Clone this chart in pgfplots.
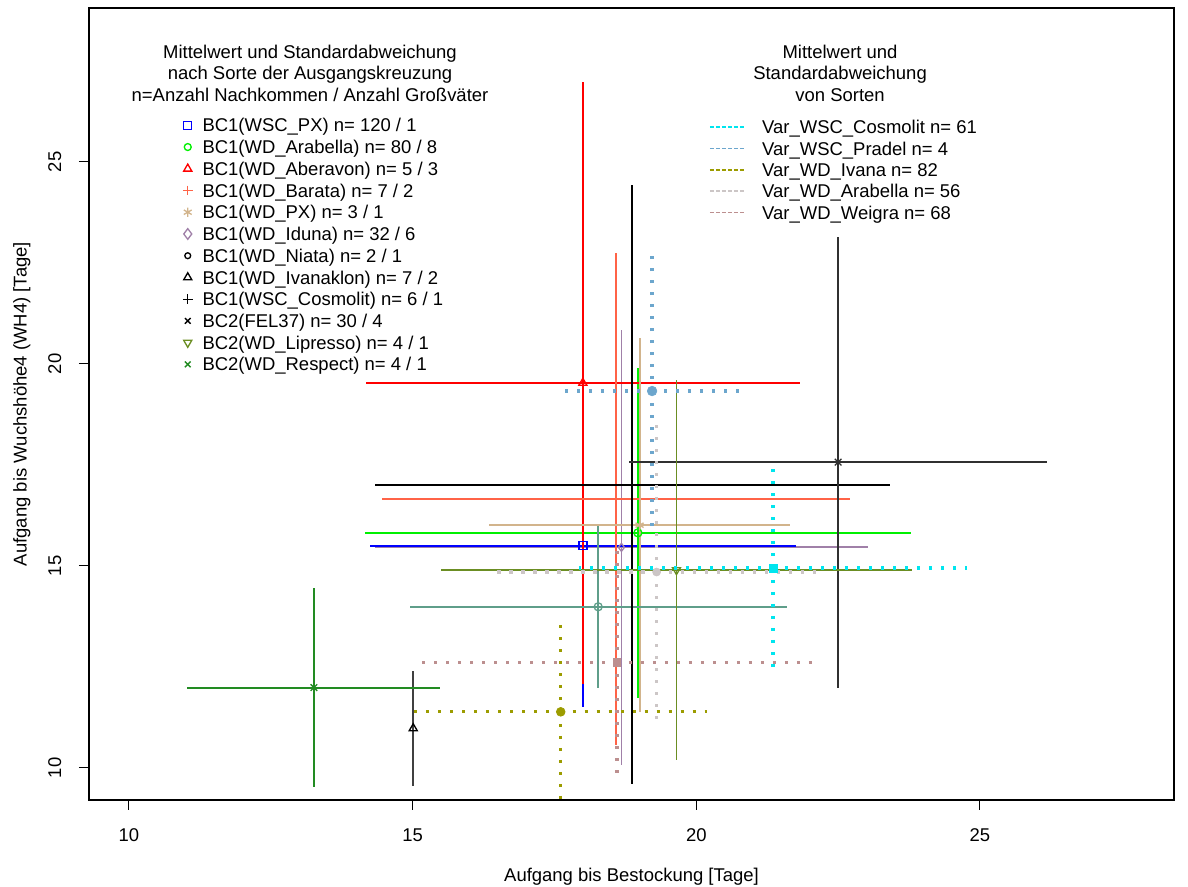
\documentclass[border=0pt]{standalone}
\usepackage{fontspec}
\setmainfont{Liberation Sans}
\usepackage{pgfplots}
\pgfplotsset{compat=1.18}
\newcommand{\fs}{\fontsize{13.85}{16.1}\selectfont}
\definecolor{cPX}{HTML}{0000FF}
\definecolor{cArab}{HTML}{00F000}
\definecolor{cAber}{HTML}{FF0000}
\definecolor{cBara}{HTML}{FF6347}
\definecolor{cWPX}{HTML}{D2B48C}
\definecolor{cIdu}{HTML}{A080A8}
\definecolor{cNia}{HTML}{5F9E8A}
\definecolor{cIvk}{HTML}{404040}
\definecolor{cCos}{HTML}{000000}
\definecolor{cFEL}{HTML}{303030}
\definecolor{cLip}{HTML}{6B8E23}
\definecolor{cRes}{HTML}{228B22}
\definecolor{vCos}{HTML}{00E5EE}
\definecolor{vPra}{HTML}{6CA6CD}
\definecolor{vIva}{HTML}{9C9C00}
\definecolor{vAra}{HTML}{CCC6C6}
\definecolor{vWei}{HTML}{BC8F8F}
\pgfplotsset{
  grp/.style 2 args={only marks, mark=#2, color=#1, line width=1pt, mark size=3pt,
    mark options={solid, draw=#1},
    /pgfplots/error bars/x dir=both, /pgfplots/error bars/x explicit,
    /pgfplots/error bars/y dir=both, /pgfplots/error bars/y explicit,
    /pgfplots/error bars/error mark=none,
    /pgfplots/error bars/error bar style={line width=1.4pt, draw=#1, solid}},
  var/.style 2 args={only marks, mark=#2, color=#1, mark size=3pt, line width=0.5pt,
    mark options={solid, draw=#1, fill=#1},
    /pgfplots/error bars/x dir=both, /pgfplots/error bars/x explicit,
    /pgfplots/error bars/y dir=both, /pgfplots/error bars/y explicit,
    /pgfplots/error bars/error mark=none,
    /pgfplots/error bars/error bar style={line width=2.4pt, draw=#1, line cap=butt, dash pattern=on 2.4pt off 6.6pt}},
  lg/.style 2 args={only marks, mark=#2, color=#1, line width=1pt, mark options={solid, draw=#1}},
  lv/.style={draw=#1, color=#1, line width=1.2pt, dash pattern=on 3pt off 1.5pt},
  base/.style={
    at={(0,0)}, anchor=south west,
    scale only axis, width=813.75pt, height=594pt,
    xmin=9.295, xmax=28.42, ymin=9.208, ymax=28.81,
    clip=true,
  }
}
\begin{document}
\begin{tikzpicture}
\useasboundingbox (-66.75pt,-65.25pt) rectangle (824.25pt,600pt);
\begin{axis}[base,
  xtick={10,15,20,25}, ytick={10,15,20,25},
  tick pos=left,
  tick align=outside, major tick length=7.5pt,
  tick style={black, line width=0.75pt},
  axis line style={line width=1pt},
  /pgf/number format/assume math mode=true,
  ticklabel style={font=\fs},
  xticklabel style={anchor=north, inner sep=0pt, yshift=-14pt},
  yticklabel style={xshift=-13pt, rotate=90, anchor=south, inner sep=0pt},
  xlabel={Aufgang bis Bestockung [Tage]},
  ylabel={Aufgang bis Wuchshöhe4 (WH4) [Tage]},
  every axis x label/.style={at={([yshift=-61.2pt]axis description cs:0.5,0)}, anchor=base, font=\fs},
  every axis y label/.style={at={([xshift=-46.8pt]axis description cs:0,0.5)}, rotate=90, anchor=base, font=\fs},
  legend image code/.code={\draw[mark repeat=2,mark phase=2,#1] plot coordinates {(0pt,0pt) (6pt,0pt) (12pt,0pt)};},
  legend style={at={(axis description cs:0.0866,0.8629)}, anchor=north west, draw=none, fill=none,
    inner sep=0pt, outer sep=0pt, row sep=3.2pt, column sep=7.5pt,
    nodes={inner sep=0pt, text height=11.5pt, text depth=1.6pt, font=\fs}},
  legend cell align=left,
]
% groups: x y +- (sd x, sd y)
\addplot[forget plot, grp={cIdu}{diamond}] coordinates {(18.68,15.46) +- (4.35,5.38)};
\addplot[forget plot, grp={cPX}{square}] coordinates {(18.00,15.50) +- (3.76,3.99)};
\addplot[forget plot, grp={cArab}{o}] coordinates {(18.97,15.82) +- (4.81,4.08)};
\addplot[forget plot, grp={cAber}{triangle}, mark size=3.5pt] coordinates {(18.00,19.53) +- (3.82,7.45)};
\addplot[forget plot, grp={cBara}{+}] coordinates {(18.58,16.66) +- (4.12,6.09)};
\addplot[forget plot, grp={cWPX}{asterisk}, mark size=3.5pt] coordinates {(19.00,16.01) +- (2.65,4.62)};
\addplot[forget plot, grp={cNia}{o}] coordinates {(18.27,13.99) +- (3.32,2.01)};
\addplot[forget plot, grp={cIvk}{triangle}, mark size=3.5pt, mark options={draw=black}] coordinates {(15.01,10.98) +- (0,1.42)};
\addplot[forget plot, grp={cCos}{+}] coordinates {(18.87,17.01) +- (4.54,7.41)};
\addplot[forget plot, grp={cFEL}{x}, mark size=3.5pt] coordinates {(22.50,17.57) +- (3.69,5.58)};
\addplot[forget plot, grp={cLip}{triangle}, mark size=3.5pt, mark options={rotate=180}] coordinates {(19.65,14.90) +- (4.15,4.70)};
\addplot[forget plot, grp={cRes}{x}, mark size=3.5pt] coordinates {(13.26,11.99) +- (2.23,2.47)};
% legend images
\addlegendimage{lg={cPX}{square}, mark size=3pt}
\addlegendentry{BC1(WSC\_PX) n= 120 / 1}
\addlegendimage{lg={cArab}{o}, mark size=2.6pt}
\addlegendentry{BC1(WD\_Arabella) n= 80 / 8}
\addlegendimage{lg={cAber}{triangle}, mark size=3.5pt}
\addlegendentry{BC1(WD\_Aberavon) n= 5 / 3}
\addlegendimage{lg={cBara}{+}, mark size=3.6pt}
\addlegendentry{BC1(WD\_Barata) n= 7 / 2}
\addlegendimage{lg={cWPX}{asterisk}, mark size=3.4pt}
\addlegendentry{BC1(WD\_PX) n= 3 / 1}
\addlegendimage{lg={cIdu}{diamond}, mark size=4pt}
\addlegendentry{BC1(WD\_Iduna) n= 32 / 6}
\addlegendimage{lg={black}{o}, mark size=2.2pt}
\addlegendentry{BC1(WD\_Niata) n= 2 / 1}
\addlegendimage{lg={black}{triangle}, mark size=3.5pt}
\addlegendentry{BC1(WD\_Ivanaklon) n= 7 / 2}
\addlegendimage{lg={black}{+}, mark size=3.6pt}
\addlegendentry{BC1(WSC\_Cosmolit) n= 6 / 1}
\addlegendimage{lg={black}{x}, mark size=3pt}
\addlegendentry{BC2(FEL37) n= 30 / 4}
\addlegendimage{lg={cLip}{triangle}, mark size=3.5pt, mark options={rotate=180}}
\addlegendentry{BC2(WD\_Lipresso) n= 4 / 1}
\addlegendimage{lg={cRes}{x}, mark size=3pt}
\addlegendentry{BC2(WD\_Respect) n= 4 / 1}
\node[align=center, font=\fs, inner sep=0pt] at (axis description cs:0.2037,0.9179)
  {Mittelwert und Standardabweichung\\nach Sorte der Ausgangskreuzung\\n=Anzahl Nachkommen / Anzahl Großväter};
\end{axis}
\begin{axis}[base, hide axis,
  legend image code/.code={\draw[#1] (0pt,0pt) -- (26pt,0pt);},
  legend style={at={(axis description cs:0.5714,0.8604)}, anchor=north west, draw=none, fill=none,
    inner sep=0pt, outer sep=0pt, row sep=2.9pt, column sep=12.75pt,
    nodes={inner sep=0pt, text height=11.5pt, text depth=1.6pt, font=\fs}},
  legend cell align=left,
]
\addplot[forget plot, var={vCos}{square*}] coordinates {(21.35,14.95) +- (3.42,2.66)};
\addplot[forget plot, var={vPra}{*}, mark size=3.6pt] coordinates {(19.22,19.33) +- (1.68,3.42)};
\addplot[forget plot, var={vIva}{*}, mark size=3.3pt] coordinates {(17.61,11.39) +- (2.58,2.20)};
\addplot[forget plot, var={vAra}{*}] coordinates {(19.30,14.85) +- (2.87,3.86)};
\addplot[forget plot, var={vWei}{square*}, mark size=2.8pt] coordinates {(18.60,12.62) +- (3.56,2.74)};
\addlegendimage{lv=vCos}
\addlegendentry{Var\_WSC\_Cosmolit n= 61}
\addlegendimage{lv=vPra}
\addlegendentry{Var\_WSC\_Pradel n= 4}
\addlegendimage{lv=vIva}
\addlegendentry{Var\_WD\_Ivana n= 82}
\addlegendimage{lv=vAra}
\addlegendentry{Var\_WD\_Arabella n= 56}
\addlegendimage{lv=vWei}
\addlegendentry{Var\_WD\_Weigra n= 68}
\node[align=center, font=\fs, inner sep=0pt] at (axis description cs:0.6922,0.9179)
  {Mittelwert und\\Standardabweichung\\von Sorten};
\end{axis}
\end{tikzpicture}
\end{document}
